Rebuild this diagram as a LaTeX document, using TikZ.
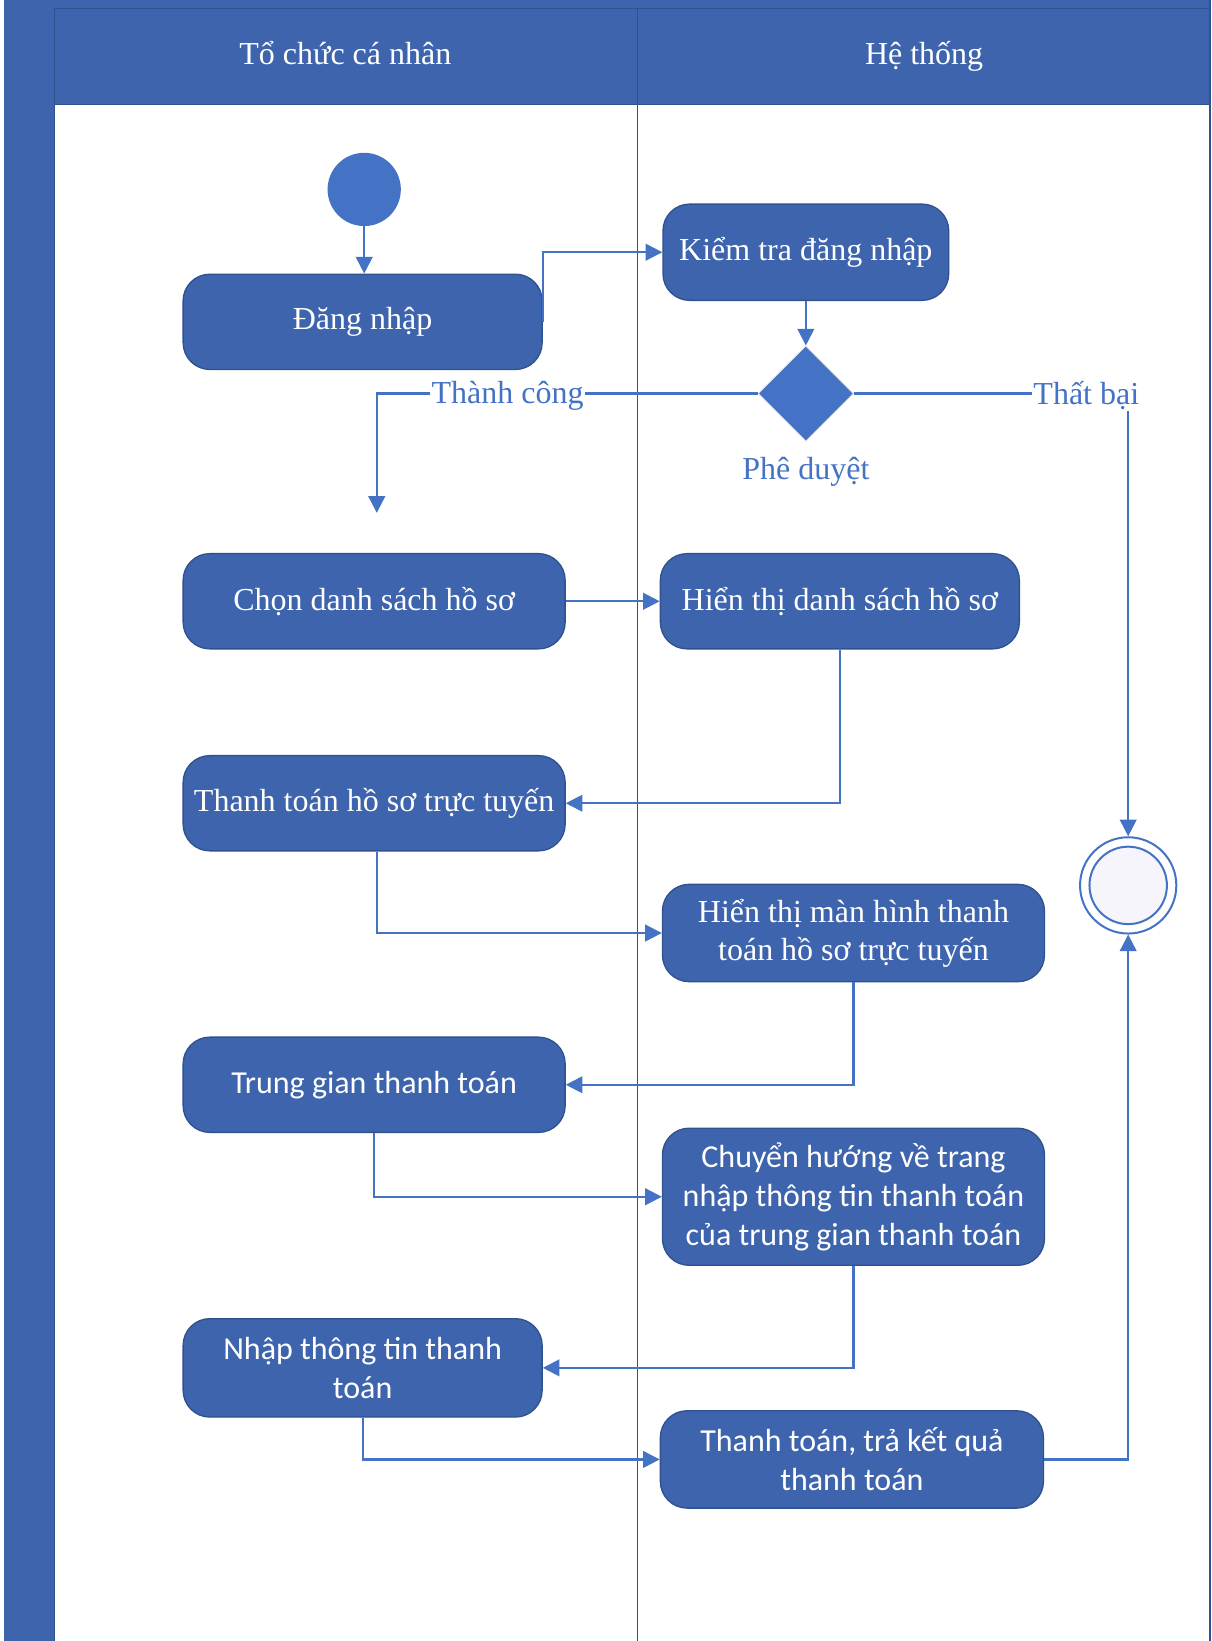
\documentclass[tikz,border=0pt]{standalone}
\usepackage{fontspec}
\setmainfont{Liberation Serif}
\newfontfamily\calfont{Carlito}
\usetikzlibrary{arrows.meta,shapes.geometric}
\definecolor{laneblue}{RGB}{61,100,173}
\definecolor{edgeblue}{RGB}{47,82,143}
\definecolor{lineblue}{RGB}{68,114,196}
\definecolor{endfill}{RGB}{245,245,251}
\def\pxu{*0.785pt}
\begin{document}
\begin{tikzpicture}[x=0.785pt,y=-0.785pt,
  act/.style={draw=edgeblue, line width=1pt, fill=laneblue, rounded corners=20pt, text=white, align=center, font=\fontsize{24}{28.5}\selectfont, inner sep=2pt},
  actc/.style={act, font=\calfont\fontsize{24}{29}\selectfont},
  flow/.style={draw=lineblue, line width=1.6pt, -{Triangle[length=12.5pt,width=12.5pt]}},
  plain/.style={draw=lineblue, line width=1.6pt},
  lbl/.style={text=lineblue, font=\fontsize{24}{28}\selectfont},
  hdr/.style={text=white, font=\fontsize{24}{28}\selectfont, anchor=base},
  lane/.style={draw=edgeblue, line width=1.2pt}]
\useasboundingbox (0,0) rectangle (1158,1568);
% swimlanes
\fill[laneblue] (4,0) rectangle (1157,1568);
\fill[white] (52,100) rectangle (1156,1568);
\draw[lane] (52,8) -- (1156,8);
\draw[lane] (52,8) -- (52,1568);
\draw[lane] (609,8) -- (609,1568);
\draw[lane] (52,100) -- (1156,100);
\draw[lane] (1156,0) -- (1156,1568);
\node[hdr] (h1) at (330,62) {Tổ chức cá nhân};
\node[hdr] (h2) at (883,62) {Hệ thống};
% nodes
\node[circle, fill=lineblue, minimum size={70\pxu}, inner sep=0] (start) at (348,181) {};
\node[act, minimum width={343\pxu}, minimum height={91\pxu}] (dang) at (346.5,307.5) {Đăng nhập};
\node[act, minimum width={273\pxu}, minimum height={92\pxu}] (kiem) at (770,241) {Kiểm tra đăng nhập};
\node[diamond, aspect=1, fill=lineblue, draw=white!75!gray, line width=0.6pt, minimum width={91\pxu}, minimum height={91\pxu}, inner sep=0] (dec) at (770,376) {};
\node[lbl] (phe) at (770,451) {Phê duyệt};
\node[act, minimum width={365\pxu}, minimum height={91\pxu}] (chon) at (357.5,574.5) {Chọn danh sách hồ sơ};
\node[act, minimum width={343\pxu}, minimum height={91\pxu}] (hien1) at (802.5,574.5) {Hiển thị danh sách hồ sơ};
\node[act, minimum width={365\pxu}, minimum height={91\pxu}] (ttoan) at (357.5,767.5) {Thanh toán hồ sơ trực tuyến};
\node[act, minimum width={365\pxu}, minimum height={93\pxu}] (hien2) at (815.5,891.5) {Hiển thị màn hình thanh\\toán hồ sơ trực tuyến};
\node[actc, minimum width={365\pxu}, minimum height={91\pxu}] (trung) at (357.5,1036.5) {Trung gian thanh toán};
\node[actc, minimum width={365\pxu}, minimum height={131\pxu}] (chuyen) at (815.5,1143.5) {Chuyển hướng về trang\\nhập thông tin thanh toán\\của trung gian thanh toán};
\node[actc, minimum width={343\pxu}, minimum height={94\pxu}] (nhap) at (346.5,1307) {Nhập thông tin thanh\\toán};
\node[actc, minimum width={366\pxu}, minimum height={93\pxu}] (ttkq) at (814,1394.5) {Thanh toán, trả kết quả\\thanh toán};
\node[circle, draw=lineblue, line width=1.5pt, fill=white, minimum size={92\pxu}, inner sep=0] (endc) at (1078,846) {};
\node[circle, draw=lineblue, line width=1.5pt, fill=endfill, minimum size={74\pxu}, inner sep=0] (endin) at (1078,846) {};
\coordinate (tc) at (360,490);
% connectors
\draw[flow] (start) -- (start |- dang.north);
\draw[flow] (dang.east) |- (kiem.west);
\draw[flow] (kiem) -- (dec);
\draw[flow] (dec.west) -| (tc);
\node[lbl, fill=white, inner sep=1pt] (ok) at (485,378) {Thành công};
\node[lbl, fill=white, inner sep=1pt] (fail) at (1038,378) {Thất bại};
\draw[plain] (dec.east) -- (fail.west |- dec.east);
\draw[flow] (fail.south -| endc) -- (endc.north);
\draw[flow] (chon) -- (hien1);
\draw[flow] (hien1.south) |- (ttoan.east);
\draw[flow] ([xshift={2.5\pxu}]ttoan.south) |- (hien2.west);
\draw[flow] (hien2.south) |- (trung.east);
\draw[flow] (trung.south) |- (chuyen.west);
\draw[flow] (chuyen.south) |- (nhap.east);
\draw[flow] (nhap.south) |- (ttkq.west);
\draw[flow] (ttkq.east) -| (endc.south);
\end{tikzpicture}
\end{document}
